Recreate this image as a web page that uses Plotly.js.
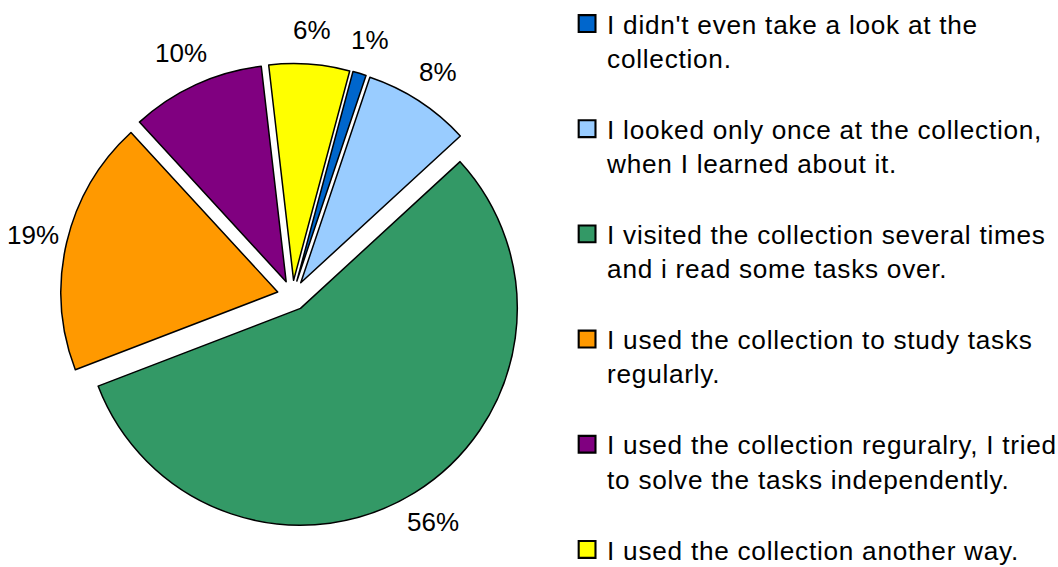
<!DOCTYPE html>
<html>
<head>
<meta charset="utf-8">
<script src="https://cdn.plot.ly/plotly-3.0.1.min.js"></script>
<style>
  html, body { margin: 0; padding: 0; background: #fff; }
  #chart { width: 1058px; height: 567px; }
  /* slightly wider legend lettering */
  #chart .legendtext { letter-spacing: 0.74px; }
  /* larger legend swatches */
  #chart path.legendpie { transform: translate(20px, 0px) scale(1.4); }
  /* legend runs to the bottom edge: show it whole, no scrolling */
  #chart .legend .scrollbox { clip-path: none !important; }
  #chart .legend .scrollbar { display: none; }
</style>
</head>
<body>
<div id="chart"></div>
<script>
// Survey answers: how students used the task collection
const answers = [
  "I didn't even take a look at the<br>collection.",
  "I looked only once at the collection,<br>when I learned about it.",
  "I visited the collection several times<br>and i read some tasks over.",
  "I used the collection to study tasks<br>regularly.",
  "I used the collection reguralry, I tried<br>to solve the tasks independently.",
  "I used the collection another way."
];
const shares = [1, 8, 56, 19, 10, 6];
const sliceColors = ["#0066CC", "#99CCFF", "#339966", "#FF9900", "#800080", "#FFFF00"];

const W = 1058, H = 567;
const startAngle = 15;          // degrees clockwise from 12 o'clock
const pullFrac = 0.07;          // every slice is pulled out by this share of the radius
const pieDomain = { x: [0.0572, 0.4957], y: [0.0697, 0.888] };
const labelFont = { family: "Liberation Sans, Arial, sans-serif", size: 26, color: "#000" };

// blank line after each entry keeps the legend rows spaced apart
const legendLabels = answers.map((a, i) => i < answers.length - 1 ? a + "<br>&nbsp;" : a);

const trace = {
  type: "pie",
  labels: legendLabels,
  values: shares,
  sort: false,
  direction: "clockwise",
  rotation: startAngle,
  pull: pullFrac,
  marker: { colors: sliceColors, line: { color: "#000", width: 1.5 } },
  textinfo: "none",
  domain: pieDomain,
  hoverinfo: "label+percent"
};

// Percentage labels sit just outside each slice, along its middle angle
const total = shares.reduce((s, v) => s + v, 0);
const boxW = (pieDomain.x[1] - pieDomain.x[0]) * W;
const boxH = (pieDomain.y[1] - pieDomain.y[0]) * H;
const radius = Math.min(boxW, boxH) / 2 / (1 + pullFrac);
const cx = (pieDomain.x[0] + pieDomain.x[1]) / 2 * W;
const cy = (1 - (pieDomain.y[0] + pieDomain.y[1]) / 2) * H;
const labelDist = radius * (pullFrac + 1.16);

let angle = startAngle;
const percentLabels = shares.map(v => {
  const mid = (angle + v / total * 180) * Math.PI / 180;
  angle += v / total * 360;
  const px = cx + labelDist * Math.sin(mid);
  const py = cy - labelDist * Math.cos(mid);
  return {
    xref: "paper", yref: "paper",
    x: px / W, y: 1 - py / H,
    xanchor: "center", yanchor: "middle",
    text: Math.round(v / total * 100) + "%",
    showarrow: false,
    font: labelFont
  };
});

const layout = {
  width: W,
  height: H,
  margin: { l: 0, r: 0, t: 0, b: 0 },
  paper_bgcolor: "#fff",
  showlegend: true,
  font: { family: "Liberation Sans, Arial, sans-serif", size: 26.2, color: "#000" },
  annotations: percentLabels,
  legend: {
    x: 0.536, xanchor: "left",
    y: 1.0, yanchor: "top",
    valign: "top",
    font: { size: 26.2, color: "#000" },
    bgcolor: "rgba(0,0,0,0)"
  }
};

Plotly.newPlot("chart", [trace], layout, { displayModeBar: false, staticPlot: true });
</script>
</body>
</html>
